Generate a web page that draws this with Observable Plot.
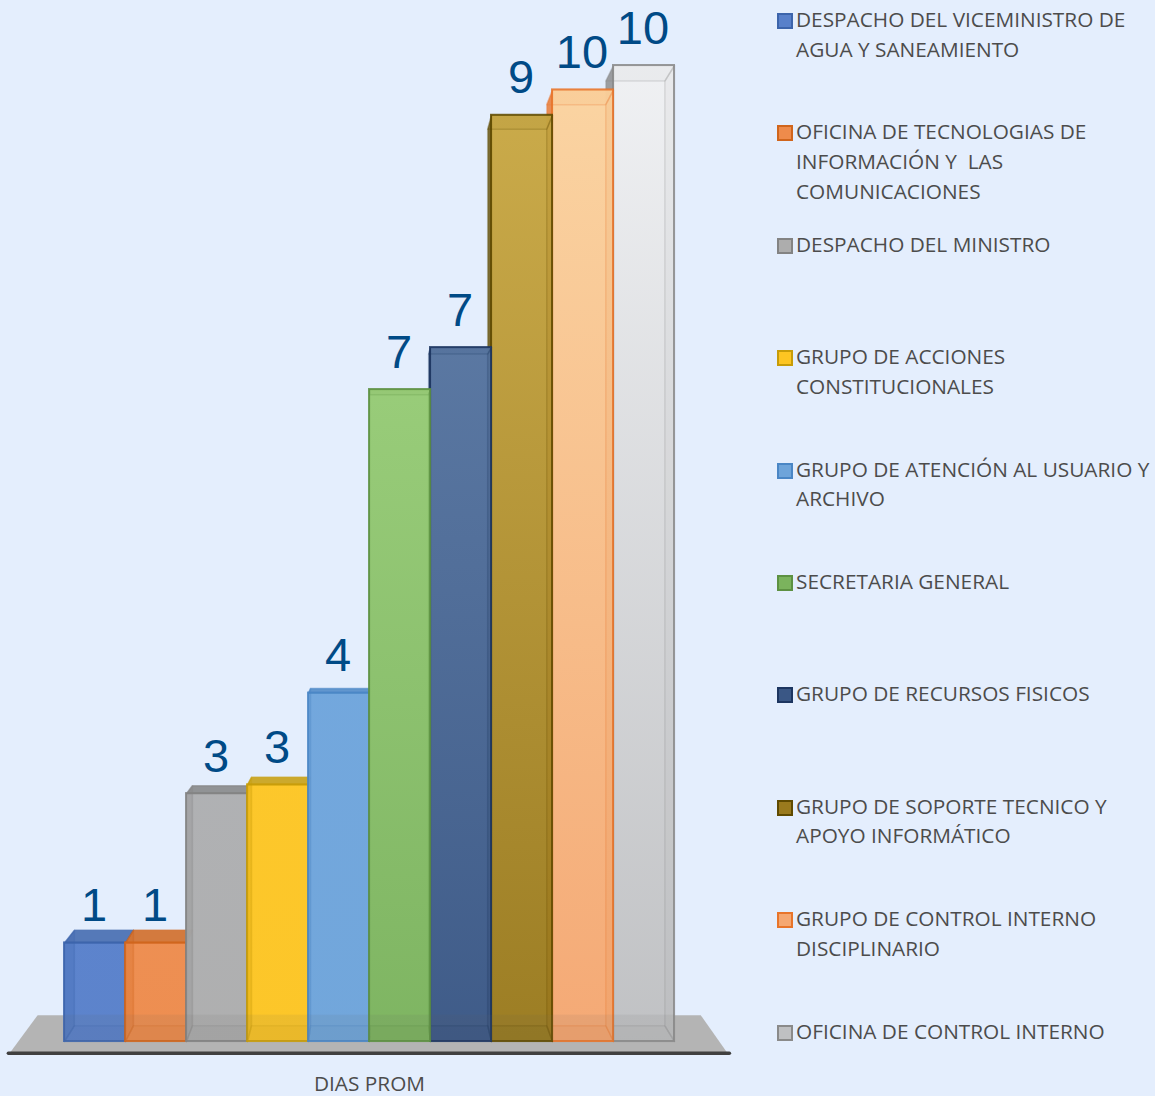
<!DOCTYPE html>
<html><head><meta charset="utf-8">
<script src="https://cdn.jsdelivr.net/npm/d3@7"></script>
<script src="https://cdn.jsdelivr.net/npm/@observablehq/plot@0.6"></script>
<style>
html,body{margin:0;padding:0;background:#e4eefd;overflow:hidden}
#page{display:flex;width:1155px;height:1096px}
#chart{flex:0 0 770px;width:770px;height:1096px}
#chart svg{background:transparent;display:block}
#legend{flex:1 1 auto;padding-top:5px;display:grid;grid-auto-rows:112.4px;font:20.8px "Open Sans",sans-serif;color:#4c4c4c;line-height:29.6px;box-sizing:border-box}
.row{position:relative;padding-left:19px;white-space:pre;margin-left:7px}
.sw{position:absolute;left:0;top:8px;width:12px;height:12px;border:2px solid}
</style></head><body>
<div id="page"><div id="chart"></div><div id="legend"></div></div>
<script>
const categories = [
 "DESPACHO DEL VICEMINISTRO DE\nAGUA Y SANEAMIENTO",
 "OFICINA DE TECNOLOGIAS DE\nINFORMACIÓN Y  LAS\nCOMUNICACIONES",
 "DESPACHO DEL MINISTRO",
 "GRUPO DE ACCIONES\nCONSTITUCIONALES",
 "GRUPO DE ATENCIÓN AL USUARIO Y\nARCHIVO",
 "SECRETARIA GENERAL",
 "GRUPO DE RECURSOS FISICOS",
 "GRUPO DE SOPORTE TECNICO Y\nAPOYO INFORMÁTICO",
 "GRUPO DE CONTROL INTERNO\nDISCIPLINARIO",
 "OFICINA DE CONTROL INTERNO"];
const values = [1.01,1.01,2.54,2.63,3.57,6.68,7.11,9.49,9.75,10];
const labels = ["1","1","3","3","4","7","7","9","10","10"];
const topColors = ["#5880cb","#ee8c4d","#aeafb1","#fdc624","#6fa5dc","#96cb75","#56749f","#c9a844","#fbd39f","#f0f1f3"];
const bottomColors = ["#5880ca","#ee8b4b","#adadad","#fdc522","#6ea4da","#7bb35d","#3a5785","#9a7a1d","#f5a771","#bfc0c2"];
const edgeColors = ["#3c64ab","#d0651c","#838383","#c79c08","#4a86c5","#5d9142","#1c3560","#5f4a00","#e8742a","#8a8a8a"];
const paintOrder = [0,9,1,8,2,7,3,6,4,5];
const floorX = [-0.44,10.43,10.87,-0.9];
const floorY = [0.27,0.27,-0.12,-0.12];
const shelfX = [-0.92,10.9];
const shelfY = [-0.12,-0.12];
const vanishX = 5.05, vanishY = 5.03, depth = 0.032;

const back = (x,y)=>({x:x+depth*(vanishX-x), y:y+depth*(vanishY-y)});
const pt = (x,y)=>({x,y});

const marks = [];
const floor = floorX.map((x,i)=>pt(x,floorY[i]));
marks.push(()=>{
  const defs = d3.create("svg:defs");
  values.forEach((_,i)=>{
    const g = defs.append("linearGradient").attr("id","g"+i).attr("x1",0).attr("y1",0).attr("x2",0).attr("y2",1);
    g.append("stop").attr("offset",0).attr("stop-color",topColors[i]);
    g.append("stop").attr("offset",1).attr("stop-color",bottomColors[i]);
  });
  return defs.node();
});
marks.push(Plot.line(floor,{x:"x",y:"y",fill:"#b4b4b4",stroke:"none",curve:"linear-closed"}));
marks.push(Plot.line(shelfX.map((x,i)=>pt(x,shelfY[i])),{x:"x",y:"y",stroke:"#404040",strokeWidth:3.5}));

for (const i of paintOrder){
  const x0=i, x1=i+1, v=values[i], c=edgeColors[i];
  const a=pt(x0,v), b=pt(x1,v), d=pt(x1,0), e=pt(x0,0);
  const A=back(x0,v), B=back(x1,v), D=back(x1,0), E=back(x0,0);
  const face=(pts,op,so)=>Plot.line(pts,{x:"x",y:"y",fill:c,fillOpacity:op,stroke:c,strokeOpacity:so,strokeWidth:1.5,curve:"linear-closed"});
  marks.push(Plot.rect([{x1:x0,x2:x1,y1:0,y2:v}],{x1:"x1",x2:"x2",y1:"y1",y2:"y2",fill:`url(#g${i})`,fillOpacity:.97}));
  marks.push(face([a,A,E,e], i>5?.8:.25, .28));
  marks.push(face([b,B,D,d], .06, .22));
  marks.push(face([e,d,D,E], .08, .22));
  marks.push(face([a,b,B,A], v<vanishY?.85:.05, v<vanishY?.6:.22));
  marks.push(Plot.rect([{x1:x0,x2:x1,y1:0,y2:v}],{x1:"x1",x2:"x2",y1:"y1",y2:"y2",fill:"none",stroke:c,strokeWidth:2,strokeOpacity:.85}));
}
marks.push(Plot.rect([{x1:0,x2:10,y1:0,y2:floorY[0]}],{x1:"x1",x2:"x2",y1:"y1",y2:"y2",fill:"#6f6f6f",fillOpacity:.09}));
marks.push(Plot.text(values.map((v,i)=>({x:i+.5,y:v,t:labels[i]})),{x:"x",y:"y",text:"t",dy:-37,dx:-1,fontSize:47,fontFamily:"Liberation Sans",fill:"#004a86"}));
marks.push(Plot.text(["DIAS PROM"],{x:[5],frameAnchor:"bottom",dy:-6,lineAnchor:"bottom",fontSize:20.8,fontFamily:"Open Sans",fill:"#4c4c4c"}));

const plot = Plot.plot({width:770,height:1096,margin:0,
  x:{type:"linear",domain:[0,10],range:[64,674],axis:null},
  y:{type:"linear",domain:[0,10],range:[1041,65],axis:null},
  style:{background:"transparent",overflow:"visible"},
  marks});
document.getElementById("chart").append(plot);

const lg=document.getElementById("legend");
categories.forEach((t,i)=>{
  const r=document.createElement("div");r.className="row";r.textContent=t;
  const s=document.createElement("span");s.className="sw";s.style.background=bottomColors[i];s.style.borderColor=edgeColors[i];
  r.prepend(s);lg.append(r);
});
</script></body></html>
